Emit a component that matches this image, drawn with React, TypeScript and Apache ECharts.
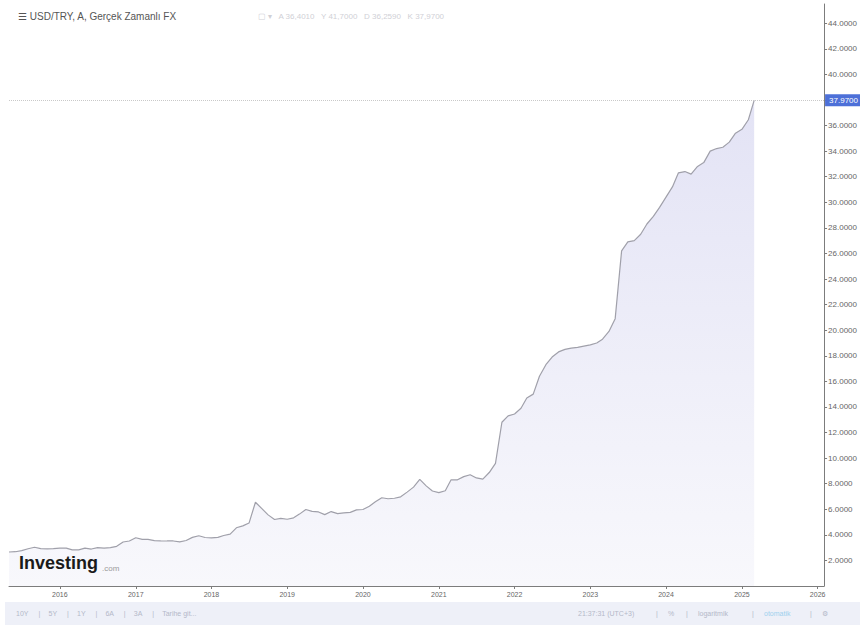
import React, { useEffect, useRef } from "react";
import * as echarts from "echarts";

// Monthly closes of USD/TRY (each array starts at the given month)
const Y2015 = [2.66, 2.68, 2.77, 2.91, 3.03, 2.92, 2.91, 2.92]; // May–Dec
const Y2016 = [2.96, 2.96, 2.83, 2.82, 2.96, 2.89, 3.0, 2.96, 3.0, 3.1, 3.44, 3.52];
const Y2017 = [3.77, 3.64, 3.64, 3.55, 3.53, 3.52, 3.52, 3.45, 3.56, 3.8, 3.93, 3.79];
const Y2018 = [3.77, 3.8, 3.95, 4.06, 4.55, 4.7, 4.92, 6.55, 6.05, 5.56, 5.2, 5.29];
const Y2019 = [5.22, 5.33, 5.62, 5.98, 5.83, 5.79, 5.58, 5.82, 5.66, 5.71, 5.76, 5.95];
const Y2020 = [5.98, 6.24, 6.58, 6.9, 6.82, 6.86, 6.97, 7.34, 7.73, 8.34, 7.83, 7.43];
const Y2021 = [7.3, 7.45, 8.3, 8.3, 8.55, 8.7, 8.45, 8.35, 8.87, 9.58, 12.8, 13.3];
const Y2022 = [13.45, 13.9, 14.7, 15.0, 16.4, 17.3, 17.9, 18.3, 18.5, 18.6, 18.65, 18.75];
const Y2023 = [18.85, 19.0, 19.3, 19.9, 20.9, 26.2, 26.9, 27.0, 27.5, 28.3, 28.9, 29.6];
const Y2024 = [30.4, 31.2, 32.3, 32.4, 32.2, 32.8, 33.1, 34.0, 34.2, 34.3, 34.7, 35.4];
const Y2025 = [35.7, 36.45, 37.97]; // Jan–Mar

// [year, first month index, values]
const YEARS: [number, number, number[]][] = [
  [2015, 4, Y2015],
  [2016, 0, Y2016],
  [2017, 0, Y2017],
  [2018, 0, Y2018],
  [2019, 0, Y2019],
  [2020, 0, Y2020],
  [2021, 0, Y2021],
  [2022, 0, Y2022],
  [2023, 0, Y2023],
  [2024, 0, Y2024],
  [2025, 0, Y2025],
];

// Year ticks along the date axis
const YEAR_TICKS = [2016, 2017, 2018, 2019, 2020, 2021, 2022, 2023, 2024, 2025, 2026];

const TITLE = "☰ USD/TRY, A, Gerçek Zamanlı FX";
const OHLC = "▢ ▾   A 36,4010   Y 41,7000   D 36,2590   K 37,9700";
const RANGE_BUTTONS = ["10Y", "|", "5Y", "|", "1Y", "|", "6A", "|", "3A", "|", "Tarihe git..."];
const STATUS_ITEMS = ["21:37:31 (UTC+3)", "|", "%", "|", "logaritmik", "|", "otomatik", "|", "⚙"];

export default function App() {
  const ref = useRef<HTMLDivElement>(null);

  useEffect(() => {
    if (!ref.current) return;
    const chart = echarts.init(ref.current, undefined, { renderer: "svg" });

    const data = YEARS.flatMap(([yr, m0, vals]) =>
      vals.map((v, i) => [Date.UTC(yr, m0 + i, 1), v])
    );
    const last = data[data.length - 1][1] as number;
    const tickValues = YEAR_TICKS.map((y) => Date.UTC(y, 0, 1));

    // toolbar texts laid out left to right
    const leftButtons: any[] = [];
    let bx = 16;
    RANGE_BUTTONS.forEach((t) => {
      leftButtons.push({
        type: "text",
        x: bx,
        y: 613,
        z: 100,
        style: { text: t, fill: "#b4b8c8", fontSize: 7, fontFamily: "Liberation Sans", verticalAlign: "middle" },
      });
      bx += t === "|" ? 10 : t.length * 4.2 + 10;
    });
    const rightItems: any[] = [];
    let rx = 578;
    STATUS_ITEMS.forEach((t) => {
      rightItems.push({
        type: "text",
        x: rx,
        y: 613,
        z: 100,
        style: {
          text: t,
          fill: t === "otomatik" ? "#9fd0ee" : "#b4b8c8",
          fontSize: 7,
          fontFamily: "Liberation Sans",
          verticalAlign: "middle",
        },
      });
      rx += t === "|" ? 12 : t.length * 4.0 + 14;
    });

    chart.setOption({
      animation: false,
      backgroundColor: "#ffffff",
      grid: { left: 9, right: 35, top: 4, bottom: 39 },
      xAxis: {
        type: "value",
        min: Date.UTC(2015, 4, 1),
        max: Date.UTC(2026, 1, 1),
        axisLine: { show: true, lineStyle: { color: "#7c7c7c", width: 1 } },
        axisTick: { show: true, length: 3, lineStyle: { color: "#7c7c7c" }, customValues: tickValues },
        splitLine: { show: false },
        axisLabel: {
          customValues: tickValues,
          formatter: (v: number) => String(new Date(v).getUTCFullYear()),
          fontSize: 7,
          color: "#666",
          margin: 5,
          fontFamily: "Liberation Sans",
        },
      },
      yAxis: {
        type: "value",
        position: "right",
        min: 0,
        max: 45.5,
        interval: 2,
        axisLine: { show: true, lineStyle: { color: "#7c7c7c", width: 1 } },
        axisTick: { show: true, length: 3, lineStyle: { color: "#7c7c7c" } },
        splitLine: { show: false },
        axisLabel: {
          showMinLabel: false,
          showMaxLabel: false,
          formatter: (v: number) => v.toFixed(4),
          fontSize: 8,
          color: "#666",
          margin: 4,
          fontFamily: "Liberation Sans",
        },
      },
      series: [
        {
          type: "line",
          data,
          symbol: "none",
          lineStyle: { color: "#a0a0aa", width: 1.2 },
          areaStyle: {
            opacity: 1,
            color: new echarts.graphic.LinearGradient(0, 0, 0, 1, [
              { offset: 0, color: "#e3e3f5" },
              { offset: 1, color: "#f8f8fc" },
            ]),
          },
          markLine: {
            silent: true,
            symbol: "none",
            lineStyle: { color: "#c9c9c9", type: "dotted", width: 1 },
            data: [{ yAxis: last }],
            label: {
              show: true,
              position: "end",
              distance: 1,
              formatter: () => last.toFixed(4),
              backgroundColor: "#4d70d8",
              color: "#ffffff",
              fontSize: 8,
              padding: [2, 4],
              fontFamily: "Liberation Sans",
            },
          },
        },
      ],
      graphic: [
        {
          type: "text",
          x: 18,
          y: 16,
          z: 100,
          style: { text: TITLE, fill: "#555", fontSize: 10, fontFamily: "Liberation Sans", verticalAlign: "middle" },
        },
        {
          type: "text",
          x: 258,
          y: 16,
          z: 100,
          style: { text: OHLC, fill: "#d0d0d6", fontSize: 8, fontFamily: "Liberation Sans", verticalAlign: "middle" },
        },
        {
          type: "text",
          x: 19,
          y: 563,
          z: 100,
          style: {
            text: "Investing",
            fill: "#1a1a1a",
            fontSize: 18,
            fontWeight: "bold",
            fontFamily: "Liberation Sans",
            verticalAlign: "middle",
          },
        },
        {
          type: "text",
          x: 102,
          y: 568,
          z: 100,
          style: { text: ".com", fill: "#9a9a9a", fontSize: 8, fontFamily: "Liberation Sans", verticalAlign: "middle" },
        },
        {
          type: "rect",
          shape: { x: 5, y: 602, width: 855, height: 23 },
          style: { fill: "#eef0f8" },
          z: 50,
        },
        ...leftButtons,
        ...rightItems,
      ],
    });

    return () => chart.dispose();
  }, []);

  return (
    <div
      ref={ref}
      style={{ position: "fixed", left: 0, top: 0, width: 860, height: 625 }}
    />
  );
}
